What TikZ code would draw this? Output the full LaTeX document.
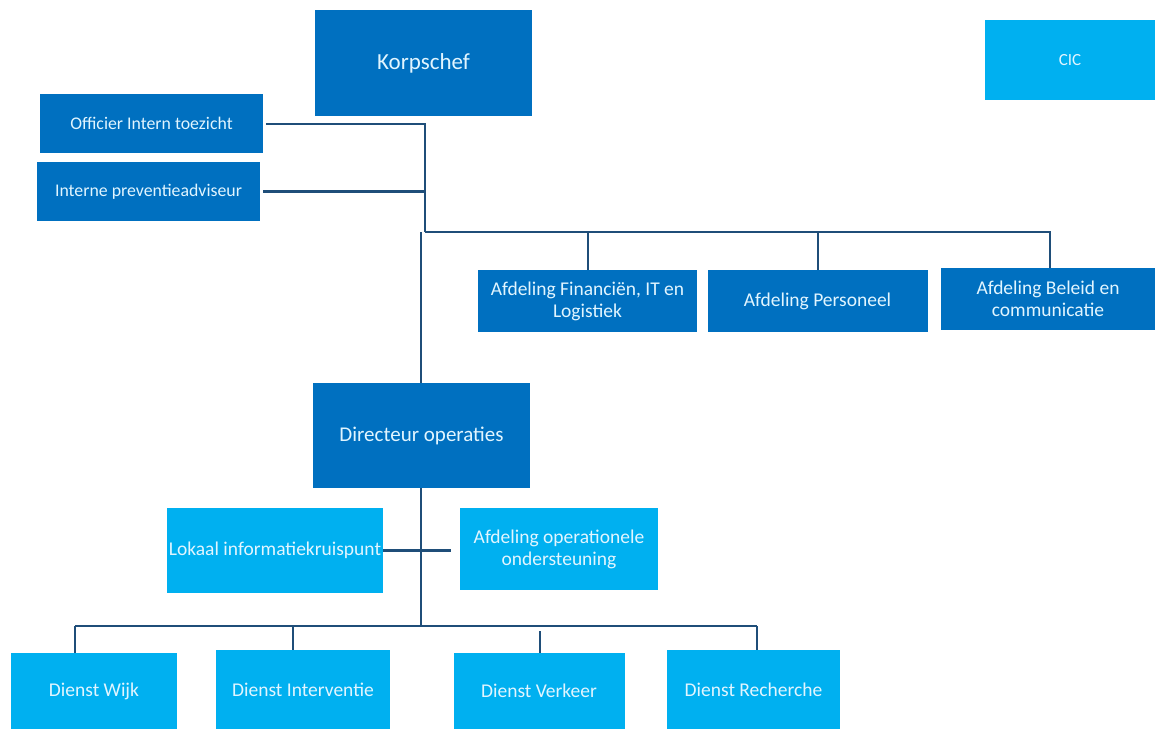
\documentclass[tikz,border=0pt]{standalone}
\usepackage{fontspec}
\setmainfont{Carlito}
\definecolor{dark}{RGB}{0,112,192}
\definecolor{light}{RGB}{0,176,240}
\definecolor{wire}{RGB}{31,78,121}
\definecolor{txt}{RGB}{225,245,255}
\tikzset{
  box/.style={rectangle, inner sep=2pt, text=txt, align=center, font=\fontsize{19.5}{22}\selectfont},
  darkbox/.style={box, fill=dark},
  lightbox/.style={box, fill=light},
  smallfont/.style={font=\fontsize{17.8}{20}\selectfont},
  wireline/.style={draw=wire, line width=2.6pt},
}
\begin{document}
\begin{tikzpicture}[x=1pt,y=-1pt]
\useasboundingbox (0,0) rectangle (1155,728);
% boxes
\node[darkbox, minimum width=217pt, minimum height=106pt, font=\fontsize{23}{26}\selectfont] (korps) at (423.5,63) {Korpschef};
\node[lightbox, minimum width=170pt, minimum height=80pt, font=\fontsize{17}{20}\selectfont] (cic) at (1070,60) {CIC};
\node[darkbox, smallfont, minimum width=223pt, minimum height=59pt] (off) at (151.5,123.5) {Officier Intern toezicht};
\node[darkbox, smallfont, minimum width=223pt, minimum height=59pt] (ipa) at (148.5,191.5) {Interne preventieadviseur};
\node[darkbox, minimum width=219pt, minimum height=62pt] (fin) at (587.5,301) {Afdeling Financiën, IT en\\Logistiek};
\node[darkbox, minimum width=220pt, minimum height=62pt] (pers) at (817.5,301) {Afdeling Personeel};
\node[darkbox, minimum width=214pt, minimum height=62pt] (bel) at (1048,299) {Afdeling Beleid en\\communicatie};
\node[darkbox, minimum width=217pt, minimum height=105pt, font=\fontsize{21}{24}\selectfont] (dir) at (421.5,435.5) {Directeur operaties};
\node[lightbox, minimum width=216pt, minimum height=85pt, inner sep=0pt] (lok) at (275,550.5) {Lokaal informatiekruispunt};
\node[lightbox, minimum width=198pt, minimum height=82pt] (aos) at (559,549) {Afdeling operationele\\ondersteuning};
\node[lightbox, minimum width=166pt, minimum height=76pt] (wijk) at (94,691) {Dienst Wijk};
\node[lightbox, minimum width=174pt, minimum height=79pt] (int) at (303,689.5) {Dienst Interventie};
\node[lightbox, minimum width=171pt, minimum height=76pt] (verk) at (539,691) {Dienst Verkeer};
\node[lightbox, minimum width=173pt, minimum height=79pt] (rech) at (753.5,689.5) {Dienst Recherche};
% connectors
\coordinate (a1) at (425,124);
\coordinate (a2) at (425,232);
\coordinate (b1) at (421,232);
\coordinate (b2) at (421,626);
\coordinate (c1) at (75,626);
\coordinate (c2) at (757,626);
\draw[wireline] ([xshift=3pt]off.east |- a1) -- (a1) -- (a2);
\draw[wireline] ([xshift=3pt]ipa.east) -- (ipa.east -| a1);
\draw[wireline] (a2) -- (1050,232) -- (bel.north -| 1050,0);
\draw[wireline] (588,232) -- (fin.north -| 588,0);
\draw[wireline] (818,232) -- (pers.north -| 818,0);
\draw[wireline] (b1) -- (dir.north -| b1);
\draw[wireline] (dir.south -| b1) -- (b2);
\draw[wireline] (lok.east) -- (451,550.5);
\draw[wireline] (c1) -- (c2);
\draw[wireline] (c1) -- (wijk.north -| c1);
\draw[wireline] (293,626) -- (int.north -| 293,0);
\draw[wireline] (540,631) -- (verk.north -| 540,0);
\draw[wireline] (c2) -- (rech.north -| c2);
\end{tikzpicture}
\end{document}
